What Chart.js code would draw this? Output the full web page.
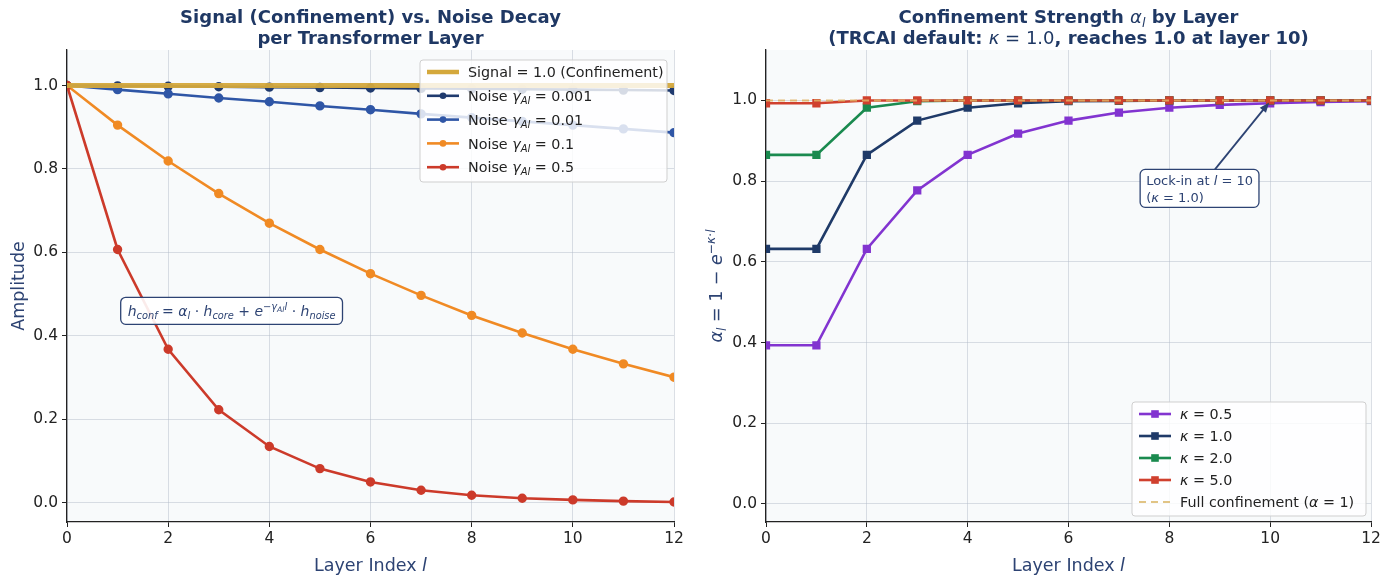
<!DOCTYPE html>
<html>
<head>
<meta charset="utf-8">
<script src="https://cdn.jsdelivr.net/npm/chart.js@4.4.0/dist/chart.umd.min.js"></script>
<style>
  html, body { margin: 0; padding: 0; background: #fff; }
  #wrap { display: flex; width: 1393px; height: 579px; }
</style>
</head>
<body>
<div id="wrap">
  <canvas id="left" width="696" height="579"></canvas>
  <canvas id="right" width="697" height="579"></canvas>
</div>
<script>
// ---- data ----
const layers = [0, 1, 2, 3, 4, 5, 6, 7, 8, 9, 10, 11, 12];
const xTicks = [0, 2, 4, 6, 8, 10, 12];
const yTicks = [0.0, 0.2, 0.4, 0.6, 0.8, 1.0];

const signal     = [1, 1, 1, 1, 1, 1, 1, 1, 1, 1, 1, 1, 1];
const noiseG0001 = [1.000, 0.999, 0.998, 0.997, 0.996, 0.995, 0.994, 0.993, 0.992, 0.991, 0.990, 0.989, 0.988];
const noiseG001  = [1.000, 0.990, 0.980, 0.970, 0.961, 0.951, 0.942, 0.932, 0.923, 0.914, 0.905, 0.896, 0.887];
const noiseG01   = [1.000, 0.905, 0.819, 0.741, 0.670, 0.607, 0.549, 0.497, 0.449, 0.407, 0.368, 0.333, 0.301];
const noiseG05   = [1.000, 0.607, 0.368, 0.223, 0.135, 0.082, 0.050, 0.030, 0.018, 0.011, 0.007, 0.004, 0.002];

const kappa05 = [0.393, 0.393, 0.632, 0.777, 0.865, 0.918, 0.950, 0.970, 0.982, 0.989, 0.993, 0.996, 0.998];
const kappa10 = [0.632, 0.632, 0.865, 0.950, 0.982, 0.993, 0.998, 0.999, 1.000, 1.000, 1.000, 1.000, 1.000];
const kappa20 = [0.865, 0.865, 0.982, 0.998, 1.000, 1.000, 1.000, 1.000, 1.000, 1.000, 1.000, 1.000, 1.000];
const kappa50 = [0.993, 0.993, 1.000, 1.000, 1.000, 1.000, 1.000, 1.000, 1.000, 1.000, 1.000, 1.000, 1.000];
const fullConf = [1, 1, 1, 1, 1, 1, 1, 1, 1, 1, 1, 1, 1];

// ---- style ----
const FONT = "'DejaVu Sans', sans-serif";
const NAVY = '#1f3864';
const LABEL = '#2d4373';
const GRID = 'rgba(176,184,198,0.45)';
const PLOT_BG = '#f8fafb';
const TICK_SIZE = 15.5;
const AXIS_TITLE = 17.5;
const TITLE = 18;

// small rich text helper (italic / sub / sup pieces)
function seg(t, o) { return Object.assign({ t: t, it: false, b: false, s: 1, dy: 0 }, o || {}); }
const N = t => seg(t);
const I = t => seg(t, { it: true });
const B = t => seg(t, { b: true });
const SUB = t => seg(t, { it: true, s: 0.7, dy: 0.22 });
const SUP = (t, it) => seg(t, { it: it !== false, s: 0.7, dy: -0.42 });
const SUPSUB = t => seg(t, { it: true, s: 0.55, dy: -0.3 });

function fontOf(g, size) {
  return (g.it ? 'italic ' : '') + (g.b ? 'bold ' : '') + (size * g.s).toFixed(2) + 'px ' + FONT;
}
function richWidth(ctx, segs, size) {
  let w = 0;
  segs.forEach(g => { ctx.font = fontOf(g, size); w += ctx.measureText(g.t).width; });
  return w;
}
// yc = vertical centre of the line
function drawRich(ctx, segs, x, yc, size, color, align) {
  const w = richWidth(ctx, segs, size);
  let cx = align === 'center' ? x - w / 2 : align === 'right' ? x - w : x;
  const base = yc + size * 0.36;
  ctx.save();
  ctx.fillStyle = color;
  ctx.textBaseline = 'alphabetic';
  ctx.textAlign = 'left';
  segs.forEach(g => {
    ctx.font = fontOf(g, size);
    ctx.fillText(g.t, cx, base + g.dy * size);
    cx += ctx.measureText(g.t).width;
  });
  ctx.restore();
  return w;
}
function drawRotated(ctx, segs, x, yc, size, color) {
  ctx.save();
  ctx.translate(x, yc);
  ctx.rotate(-Math.PI / 2);
  drawRich(ctx, segs, 0, 0, size, color, 'center');
  ctx.restore();
}
function roundBox(ctx, x, y, w, h, r, fill, stroke, lw) {
  ctx.save();
  ctx.beginPath();
  ctx.roundRect(x, y, w, h, r);
  ctx.fillStyle = fill;
  ctx.fill();
  ctx.lineWidth = lw;
  ctx.strokeStyle = stroke;
  ctx.stroke();
  ctx.restore();
}

function drawLegend(ctx, box, rows, rowStep, size) {
  roundBox(ctx, box.x, box.y, box.w, box.h, 3, 'rgba(255,255,255,0.82)', '#cfcfcf', 1);
  rows.forEach((r, i) => {
    const yc = box.y + 12 + i * rowStep;
    const x0 = box.x + 7, x1 = box.x + 39;
    ctx.save();
    ctx.strokeStyle = r.color;
    ctx.lineWidth = r.width;
    ctx.setLineDash(r.dash || []);
    ctx.beginPath(); ctx.moveTo(x0, yc); ctx.lineTo(x1, yc); ctx.stroke();
    ctx.setLineDash([]);
    ctx.fillStyle = r.color;
    if (r.marker === 'circle') { ctx.beginPath(); ctx.arc((x0 + x1) / 2, yc, 3.3, 0, Math.PI * 2); ctx.fill(); }
    if (r.marker === 'rect') { ctx.fillRect((x0 + x1) / 2 - 3.8, yc - 3.8, 7.6, 7.6); }
    ctx.restore();
    drawRich(ctx, r.label, box.x + r.tx, yc, size, '#222', 'left');
  });
}

function xy(data) { return layers.map((l, i) => ({ x: l, y: data[i] })); }

function lineDs(label, data, color, order, extra) {
  return Object.assign({
    label: label, data: xy(data), order: order,
    borderColor: color, backgroundColor: color,
    pointBackgroundColor: color, pointBorderColor: color,
    borderWidth: 2.6, pointRadius: 3.4, pointHoverRadius: 3.4, tension: 0
  }, extra || {});
}

function axes(yMin, yMax, yWidth) {
  const tickFont = { family: FONT, size: TICK_SIZE };
  return {
    x: {
      type: 'linear', min: 0, max: 12,
      afterBuildTicks: s => { s.ticks = xTicks.map(v => ({ value: v })); },
      afterFit: s => { s.height = 57; },
      ticks: { color: '#222', font: tickFont, padding: 3, callback: v => String(v) },
      grid: { color: GRID, tickColor: '#222', tickLength: 5 },
      border: { color: '#222', width: 1.3 }
    },
    y: {
      type: 'linear', min: yMin, max: yMax,
      afterBuildTicks: s => { s.ticks = yTicks.map(v => ({ value: v })); },
      afterFit: s => { s.width = yWidth; },
      ticks: { color: '#222', font: tickFont, padding: 4, callback: v => v.toFixed(1) },
      grid: { color: GRID, tickColor: '#222', tickLength: 5 },
      border: { color: '#222', width: 1.3 }
    }
  };
}

const bgPlugin = {
  id: 'plotBg',
  beforeDraw(chart) {
    const a = chart.chartArea, c = chart.ctx;
    c.save(); c.fillStyle = PLOT_BG; c.fillRect(a.left, a.top, a.right - a.left, a.bottom - a.top); c.restore();
  }
};

function baseOptions(yMin, yMax, yWidth) {
  return {
    responsive: false,
    animation: false,
    layout: { padding: { left: 0, right: 22, top: 50, bottom: 0 } },
    plugins: { legend: { display: false }, tooltip: { enabled: false }, title: { display: false } },
    scales: axes(yMin, yMax, yWidth)
  };
}

// ---- left chart ----
const leftDeco = {
  id: 'leftDeco',
  afterDraw(chart) {
    const c = chart.ctx, a = chart.chartArea, sx = chart.scales.x, sy = chart.scales.y;
    const mid = (a.left + a.right) / 2;
    drawRich(c, [B('Signal (Confinement) vs. Noise Decay')], mid, 17, TITLE, NAVY, 'center');
    drawRich(c, [B('per Transformer Layer')], mid, 38, TITLE, NAVY, 'center');
    drawRich(c, [N('Layer Index '), I('l')], mid, 565, AXIS_TITLE, LABEL, 'center');
    drawRotated(c, [N('Amplitude')], 18, (a.top + a.bottom) / 2, AXIS_TITLE, LABEL);

    // formula box
    const f = [I('h'), SUB('conf'), N(' = '), I('α'), SUB('l'), N(' · '), I('h'), SUB('core'), N(' + '),
               I('e'), SUP('−', false), SUP('γ'), SUPSUB('Al'), SUP('l'), N(' · '), I('h'), SUB('noise')];
    const fx = sx.getPixelForValue(1.2), fy = sy.getPixelForValue(0.46);
    const fw = richWidth(c, f, 14);
    roundBox(c, fx - 7, fy - 13.5, fw + 14, 27, 5, 'rgba(255,255,255,0.9)', LABEL, 1.3);
    drawRich(c, f, fx, fy, 14, LABEL, 'left');

    // legend
    const w = 247, h = 122;
    const box = { x: a.right - 7 - w, y: a.top + 10, w: w, h: h };
    const g = v => [N('Noise '), I('γ'), SUB('Al'), N(' = ' + v)];
    drawLegend(c, box, [
      { color: '#d4a83c', width: 4.5, label: [N('Signal = 1.0 (Confinement)')], tx: 48 },
      { color: '#1f3a6e', width: 2.6, marker: 'circle', label: g('0.001'), tx: 48 },
      { color: '#2f56a6', width: 2.6, marker: 'circle', label: g('0.01'), tx: 48 },
      { color: '#f08a24', width: 2.6, marker: 'circle', label: g('0.1'), tx: 48 },
      { color: '#cc3a2a', width: 2.6, marker: 'circle', label: g('0.5'), tx: 48 }
    ], 23.8, 14.3);
  }
};

new Chart(document.getElementById('left'), {
  type: 'line',
  data: {
    datasets: [
      lineDs('Signal = 1.0 (Confinement)', signal, 'rgba(212,168,60,0.95)', 0, { borderWidth: 5, pointRadius: 0 }),
      lineDs('Noise γ = 0.001', noiseG0001, '#1f3a6e', 4),
      lineDs('Noise γ = 0.01', noiseG001, '#2f56a6', 3),
      lineDs('Noise γ = 0.1', noiseG01, '#f08a24', 2),
      lineDs('Noise γ = 0.5', noiseG05, '#cc3a2a', 1)
    ]
  },
  options: baseOptions(-0.046, 1.085, 67),
  plugins: [bgPlugin, leftDeco]
});

// ---- right chart ----
const rightDeco = {
  id: 'rightDeco',
  afterDraw(chart) {
    const c = chart.ctx, a = chart.chartArea, sx = chart.scales.x, sy = chart.scales.y;
    const mid = (a.left + a.right) / 2;
    drawRich(c, [B('Confinement Strength '), I('α'), SUB('l'), B(' by Layer')], mid, 17, TITLE, NAVY, 'center');
    drawRich(c, [B('(TRCAI default: '), I('κ'), N(' = 1.0'), B(', reaches 1.0 at layer 10)')], mid, 38, TITLE, NAVY, 'center');
    drawRich(c, [N('Layer Index '), I('l')], mid, 565, AXIS_TITLE, LABEL, 'center');
    drawRotated(c, [I('α'), SUB('l'), N(' = 1 − '), I('e'), SUP('−', false), SUP('κ'), SUP('·', false), SUP('l')],
                20, (a.top + a.bottom) / 2, AXIS_TITLE, LABEL);

    // lock-in annotation
    const l1 = [N('Lock-in at '), I('l'), N(' = 10')];
    const l2 = [N('('), I('κ'), N(' = 1.0)')];
    const tx = sx.getPixelForValue(7.54), tyc = sy.getPixelForValue(0.782);
    const tw = Math.max(richWidth(c, l1, 13), richWidth(c, l2, 13));
    const bx = tx - 6, by = tyc - 19, bw = tw + 12, bh = 38;
    const tipX = sx.getPixelForValue(10) - 1, tipY = sy.getPixelForValue(kappa10[10]) + 2;
    const cx = bx + bw / 2, cy = by + bh / 2;
    const t = (cy - by) / (cy - tipY);
    const sX = cx + (tipX - cx) * t, sY = by;
    c.save();
    c.strokeStyle = LABEL; c.fillStyle = LABEL; c.lineWidth = 1.8;
    const ang = Math.atan2(tipY - sY, tipX - sX);
    c.beginPath(); c.moveTo(sX, sY); c.lineTo(tipX - 8 * Math.cos(ang), tipY - 8 * Math.sin(ang)); c.stroke();
    c.beginPath();
    c.moveTo(tipX, tipY);
    c.lineTo(tipX - 10 * Math.cos(ang) + 4 * Math.sin(ang), tipY - 10 * Math.sin(ang) - 4 * Math.cos(ang));
    c.lineTo(tipX - 10 * Math.cos(ang) - 4 * Math.sin(ang), tipY - 10 * Math.sin(ang) + 4 * Math.cos(ang));
    c.closePath(); c.fill();
    c.restore();
    roundBox(c, bx, by, bw, bh, 5, 'rgba(255,255,255,0.92)', LABEL, 1.3);
    drawRich(c, l1, tx, tyc - 8.5, 13, LABEL, 'left');
    drawRich(c, l2, tx, tyc + 8.5, 13, LABEL, 'left');

    // legend
    const w = 234, h = 114;
    const box = { x: a.right - 5 - w, y: a.bottom - 6 - h, w: w, h: h };
    const k = v => [I('κ'), N(' = ' + v)];
    drawLegend(c, box, [
      { color: '#8234d0', width: 2.6, marker: 'rect', label: k('0.5'), tx: 48 },
      { color: '#1f3a68', width: 2.6, marker: 'rect', label: k('1.0'), tx: 48 },
      { color: '#1a8a4f', width: 2.6, marker: 'rect', label: k('2.0'), tx: 48 },
      { color: '#d0402e', width: 2.6, marker: 'rect', label: k('5.0'), tx: 48 },
      { color: 'rgba(222,190,120,0.9)', width: 2, dash: [7, 5], label: [N('Full confinement ('), I('α'), N(' = 1)')], tx: 48 }
    ], 22, 14.3);
  }
};

const sq = { pointStyle: 'rect', pointRadius: 4, pointHoverRadius: 4 };
new Chart(document.getElementById('right'), {
  type: 'line',
  data: {
    datasets: [
      lineDs('κ = 0.5', kappa05, '#8234d0', 5, sq),
      lineDs('κ = 1.0', kappa10, '#1f3a68', 4, sq),
      lineDs('κ = 2.0', kappa20, '#1a8a4f', 3, sq),
      lineDs('κ = 5.0', kappa50, '#d0402e', 2, sq),
      lineDs('Full confinement (α = 1)', fullConf, 'rgba(224,178,100,0.85)', 1,
             { borderWidth: 2, borderDash: [7, 5], pointRadius: 0 })
    ]
  },
  options: baseOptions(-0.045, 1.125, 70),
  plugins: [bgPlugin, rightDeco]
});
</script>
</body>
</html>
